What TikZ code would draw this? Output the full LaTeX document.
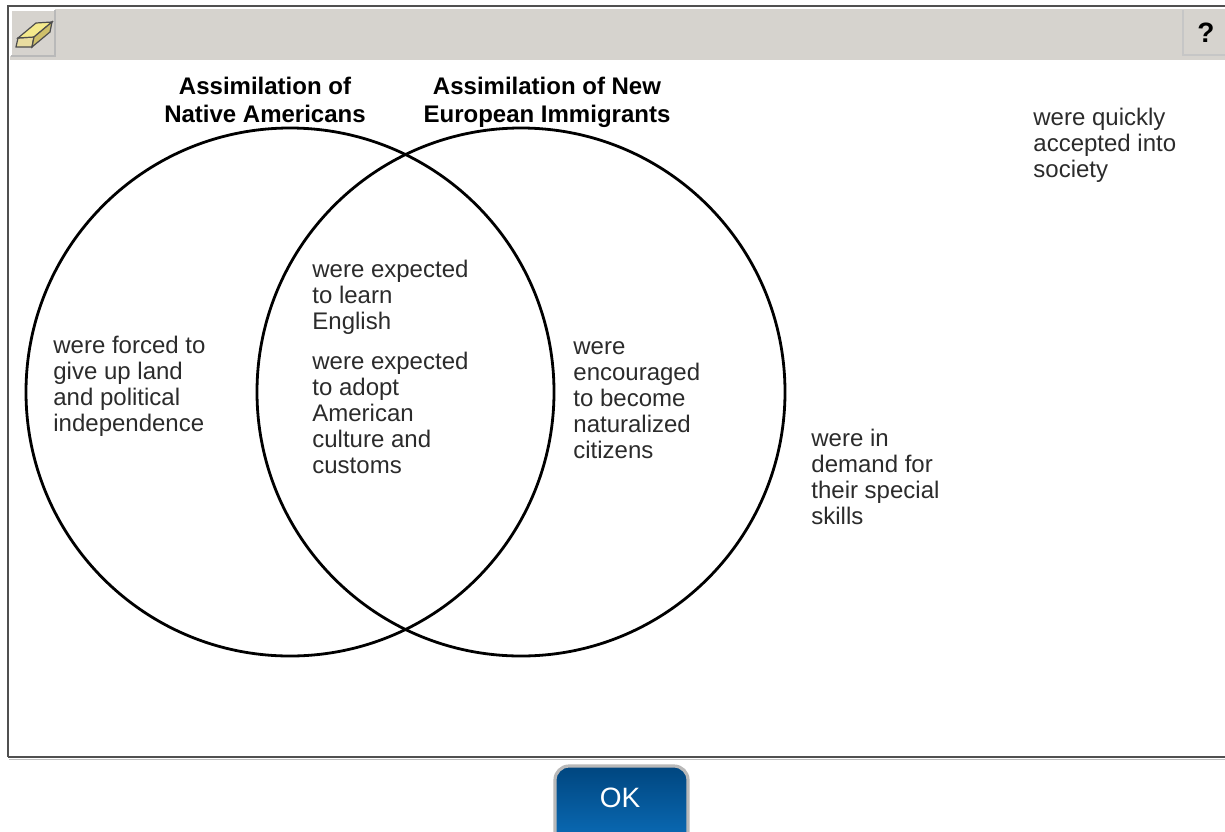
\documentclass[tikz,border=0pt]{standalone}
\usepackage{fontspec}
\setmainfont{Liberation Sans}
\definecolor{barcol}{HTML}{D6D3CE}
\definecolor{framecol}{HTML}{505050}
\definecolor{txtcol}{HTML}{2B2B2B}
\definecolor{okdark}{HTML}{00467F}
\definecolor{oklight}{HTML}{0B6DB9}
\definecolor{erasertop}{HTML}{F4EA8C}
\definecolor{eraserfront}{HTML}{E9DDA0}
\definecolor{eraserside}{HTML}{CFC06A}
\begin{document}
\begin{tikzpicture}[x=0.5pt, y=-0.5pt,
    choice/.style={anchor=base west, align=left, inner sep=0pt, text=txtcol,
      font=\fontsize{12}{13}\selectfont},
    heading/.style={anchor=base, align=center, inner sep=0pt,
      font=\bfseries\fontsize{12}{14}\selectfont}]
    \useasboundingbox (0,0) rectangle (1225,831);

    % Window frame and toolbar
    \fill[barcol] (10,9) rectangle (1225,60);
    \draw[framecol, line width=1.2pt] (8,757) -- (8,6) -- (1225,6);
    \draw[framecol, line width=1pt] (8,757) -- (1225,757);
    \draw[gray!50, line width=0.8pt] (9,759.5) -- (1225,759.5);

    % Eraser button
    \draw[white, line width=0.6pt] (11,56) -- (11,10) -- (55,10);
    \draw[gray!55, line width=0.6pt] (55,10) -- (55,56) -- (11,56);
    \draw[black!70, fill=eraserfront, line width=0.6pt] (16,47) -- (18,38) -- (34,37) -- (32,47) -- cycle;
    \draw[black!70, fill=erasertop, line width=0.6pt] (18,38) -- (36,23) -- (52,22) -- (34,37) -- cycle;
    \draw[black!70, fill=eraserside, line width=0.6pt] (32,47) -- (34,37) -- (52,22) -- (50,32) -- cycle;

    % Help button
    \draw[gray!45, line width=0.6pt] (1183,10) -- (1183,55) -- (1225,55);
    \node[font=\bfseries\fontsize{14}{14}\selectfont] (help) at (1206,33) {?};

    % Circles
    \coordinate (natives) at (290,392);
    \coordinate (europeans) at (521,392);
    \draw[line width=1.4pt] (natives) circle[radius=132pt];
    \draw[line width=1.4pt] (europeans) circle[radius=132pt];

    % Headings (base = last line)
    \node[heading] (nativetitle) at (265,122) {Assimilation of\\Native Americans};
    \node[heading] (europtitle) at (547,122) {Assimilation of New\\European Immigrants};

    % Statements (base = last line)
    \node[choice] (forced) at (53,431) {were forced to\\give up land\\and political\\independence};
    \node[choice] (english) at (312,329) {were expected\\to learn\\English};
    \node[choice] (customs) at (312,473) {were expected\\to adopt\\American\\culture and\\customs};
    \node[choice] (citizens) at (573,458) {were\\encouraged\\to become\\naturalized\\citizens};
    \node[choice] (skills) at (811,524) {were in\\demand for\\their special\\skills};
    \node[choice] (society) at (1033,177) {were quickly\\accepted into\\society};

    % OK button
    \draw[gray!55, line width=1.6pt, rounded corners=7pt, top color=okdark, bottom color=oklight]
      (555,766) rectangle (688,845);
    \node[text=white, font=\fontsize{14}{14}\selectfont] (ok) at (620,798) {OK};
\end{tikzpicture}
\end{document}
